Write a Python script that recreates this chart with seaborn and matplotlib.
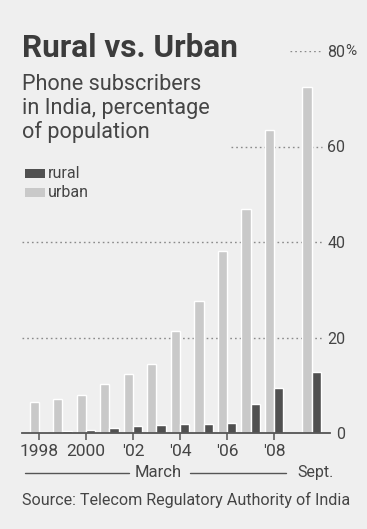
import matplotlib
matplotlib.use("Agg")
import matplotlib.pyplot as plt
import seaborn as sns
import pandas as pd

# ---- data ----
periods = [1998, 1999, 2000, 2001, 2002, 2003, 2004, 2005, 2006, 2007, 2008, 2009.6]
period_names = ["Mar 1998", "Mar 1999", "Mar 2000", "Mar 2001", "Mar 2002", "Mar 2003",
                "Mar 2004", "Mar 2005", "Mar 2006", "Mar 2007", "Mar 2008", "Sept 2008"]
urban = [6.5, 7.1, 7.9, 10.2, 12.4, 14.4, 21.3, 27.7, 38.1, 46.9, 63.5, 72.5]
rural = [0.3, 0.4, 0.7, 1.0, 1.5, 1.6, 1.9, 1.9, 2.1, 6.0, 9.4, 12.7]
series = ["urban", "rural"]
legend_order = ["rural", "urban"]
xtick_pos = [1998, 2000, 2002, 2004, 2006, 2008]
xtick_labels = ["1998", "2000", "'02", "'04", "'06", "'08"]
yticks = [0, 20, 40, 60, 80]
ytick_labels = ["0", "20", "40", "60", "80"]

df = pd.DataFrame({
    "period": periods * 2,
    "share": urban + rural,
    "area": ["urban"] * len(periods) + ["rural"] * len(periods),
})

BG = "#efefef"
URBAN_C = "#c9c9c9"
RURAL_C = "#505050"
TXT = "#454545"

sns.set_theme(style="white")
plt.rcParams["font.family"] = ["Roboto", "DejaVu Sans"]

fig = plt.figure(figsize=(3.67, 5.29), dpi=100, facecolor=BG)
ax = fig.add_axes([22 / 367, 96 / 529, 308 / 367, 382 / 529])
ax.set_facecolor(BG)

palette = {"urban": URBAN_C, "rural": RURAL_C}
sns.barplot(data=df, x="period", y="share", hue="area", hue_order=series,
            palette=palette, native_scale=True, width=0.78, saturation=1,
            errorbar=None, legend=False, ax=ax, zorder=2)

ax.set_xlim(1997.28, 2010.38)
ax.set_ylim(0, 80)
ax.set_xlabel("")
ax.set_ylabel("")

# gridlines (dotted), partially hidden behind the heading
grid_spans = {20: (0.0, 0.975), 40: (0.0, 0.975), 60: (0.68, 0.975), 80: (0.87, 0.975)}
for yv, (x0, x1) in grid_spans.items():
    ax.axhline(yv, xmin=x0, xmax=x1, color="#8a8a8a", lw=1.0,
               linestyle=(0, (1.2, 2.2)), zorder=1)

for s in ["top", "left", "right"]:
    ax.spines[s].set_visible(False)
ax.spines["bottom"].set_color("#555555")
ax.spines["bottom"].set_linewidth(1.3)
ax.spines["bottom"].set_zorder(3)

ax.set_xticks(xtick_pos)
ax.set_xticklabels(xtick_labels)
ax.tick_params(axis="x", direction="out", length=5, width=1.1, color="#555555",
               labelsize=12.5, labelcolor=TXT, pad=3, bottom=True)

ax.yaxis.tick_right()
ax.set_yticks(yticks)
ax.set_yticklabels(ytick_labels)
ax.tick_params(axis="y", length=0, labelsize=11.5, labelcolor=TXT, pad=11)
for t in ax.get_yticklabels():
    t.set_ha("right")
ax.annotate("%", xy=(1, 80), xycoords=("axes fraction", "data"),
            xytext=(11, 0), textcoords="offset points", ha="left", va="center",
            fontsize=11, color=TXT)

# heading
fig.text(22 / 367, 1 - 57 / 529, "Rural vs. Urban", fontsize=22.7, weight="bold",
         color="#3c3c3c", va="baseline", ha="left")
for i, line in enumerate(["Phone subscribers", "in India, percentage", "of population"]):
    fig.text(22 / 367, 1 - (90 + 24 * i) / 529, line, fontsize=15.6, color=TXT,
             va="baseline", ha="left")

# legend
for i, name in enumerate(legend_order):
    ycen = 1 - (174 + 19 * i) / 529
    fig.patches.append(plt.Rectangle((25 / 367, ycen - 4 / 529), 20 / 367, 9 / 529,
                                     transform=fig.transFigure, facecolor=palette[name],
                                     edgecolor="none"))
    fig.text(48 / 367, ycen, name, fontsize=11.5, color=TXT, va="center", ha="left")

# March / Sept line
yline = 1 - 473 / 529
fig.add_artist(plt.Line2D([25 / 367, 129 / 367], [yline, yline], color="#555555", lw=1.0))
fig.add_artist(plt.Line2D([190 / 367, 286 / 367], [yline, yline], color="#555555", lw=1.0))
fig.text(158 / 367, 1 - 477 / 529, "March", fontsize=12, color=TXT, ha="center", va="baseline")
fig.text(297 / 367, 1 - 477 / 529, "Sept.", fontsize=11.5, color=TXT, ha="left", va="baseline")

fig.text(22 / 367, 1 - 505 / 529, "Source: Telecom Regulatory Authority of India",
         fontsize=11.6, color=TXT, ha="left", va="baseline")

fig.savefig("out.png", dpi=100, facecolor=BG)
